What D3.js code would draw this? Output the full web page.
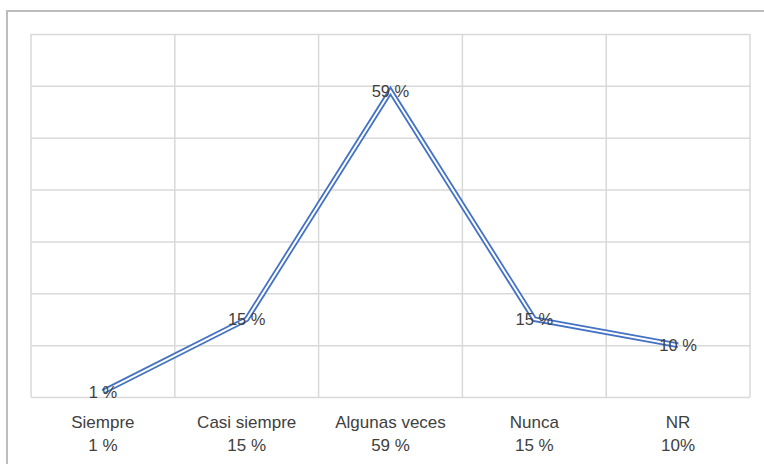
<!DOCTYPE html>
<html>
<head>
<meta charset="utf-8">
<script src="https://cdn.jsdelivr.net/npm/d3@7"></script>
<style>
  html, body { margin: 0; padding: 0; background: #fff; }
  svg { display: block; }
</style>
</head>
<body>
<svg id="chart" width="764" height="464"></svg>
<script>
// Frecuencia de respuestas
const categories = ["Siempre", "Casi siempre", "Algunas veces", "Nunca", "NR"];
const values = [1, 15, 59, 15, 10];
const categoryPercentLabels = ["1 %", "15 %", "59 %", "15 %", "10%"];
const pointLabels = ["1 %", "15 %", "59 %", "15 %", "10 %"];
const yTicks = [0, 10, 20, 30, 40, 50, 60, 70];

const svg = d3.select("#chart");
const W = 764, H = 464;
const m = { left: 31, right: 14, top: 34, bottom: 67 };
const pw = W - m.left - m.right;
const ph = H - m.top - m.bottom;
const font = "'Liberation Sans', Arial, sans-serif";

// outer chart frame
svg.append("rect")
  .attr("x", 7).attr("y", 11)
  .attr("width", 800).attr("height", 500)
  .attr("fill", "none")
  .attr("stroke", "#bdbdbd")
  .attr("stroke-width", 2);

const g = svg.append("g").attr("transform", `translate(${m.left},${m.top})`);

const x = d3.scaleBand().domain(categories).range([0, pw]).padding(0);
const y = d3.scaleLinear().domain([0, 70]).range([ph, 0]);

// horizontal gridlines
g.append("g")
  .call(d3.axisLeft(y).tickValues(yTicks).tickSize(-pw).tickFormat(""))
  .call(s => s.select(".domain").remove())
  .call(s => s.selectAll(".tick line").attr("stroke", "#d9d9d9").attr("stroke-width", 1.5));

// vertical gridlines at category boundaries
const bounds = categories.map(c => x(c)).concat([pw]);
g.append("g").selectAll("line").data(bounds).join("line")
  .attr("x1", d => d).attr("x2", d => d)
  .attr("y1", 0).attr("y2", ph)
  .attr("stroke", "#d9d9d9").attr("stroke-width", 1.5);

// category axis labels (two lines)
const xAxis = g.append("g").attr("transform", `translate(0,${ph})`)
  .call(d3.axisBottom(x).tickSize(0).tickFormat(""));
xAxis.select(".domain").remove();
xAxis.selectAll(".tick").each(function(d, i) {
  const t = d3.select(this).append("text")
    .attr("fill", "#404040")
    .attr("font-family", font)
    .attr("font-size", 17)
    .attr("text-anchor", "middle");
  t.append("tspan").attr("x", 0).attr("y", 31).text(d);
  t.append("tspan").attr("x", 0).attr("y", 54).text(categoryPercentLabels[i]);
});

const line = d3.line()
  .x((d, i) => x(categories[i]) + x.bandwidth() / 2)
  .y(d => y(d));

// double (compound) line
g.append("path").datum(values)
  .attr("d", line)
  .attr("fill", "none")
  .attr("stroke", "#4472c4")
  .attr("stroke-width", 5.6)
  .attr("stroke-linejoin", "miter");
g.append("path").datum(values)
  .attr("d", line)
  .attr("fill", "none")
  .attr("stroke", "#ffffff")
  .attr("stroke-width", 2)
  .attr("stroke-linejoin", "miter");

// data labels centered on the points
g.append("g").selectAll("text").data(values).join("text")
  .attr("x", (d, i) => x(categories[i]) + x.bandwidth() / 2)
  .attr("y", d => y(d) + 6)
  .attr("text-anchor", "middle")
  .attr("fill", "#404040")
  .attr("font-family", font)
  .attr("font-size", 16.5)
  .text((d, i) => pointLabels[i]);
</script>
</body>
</html>
